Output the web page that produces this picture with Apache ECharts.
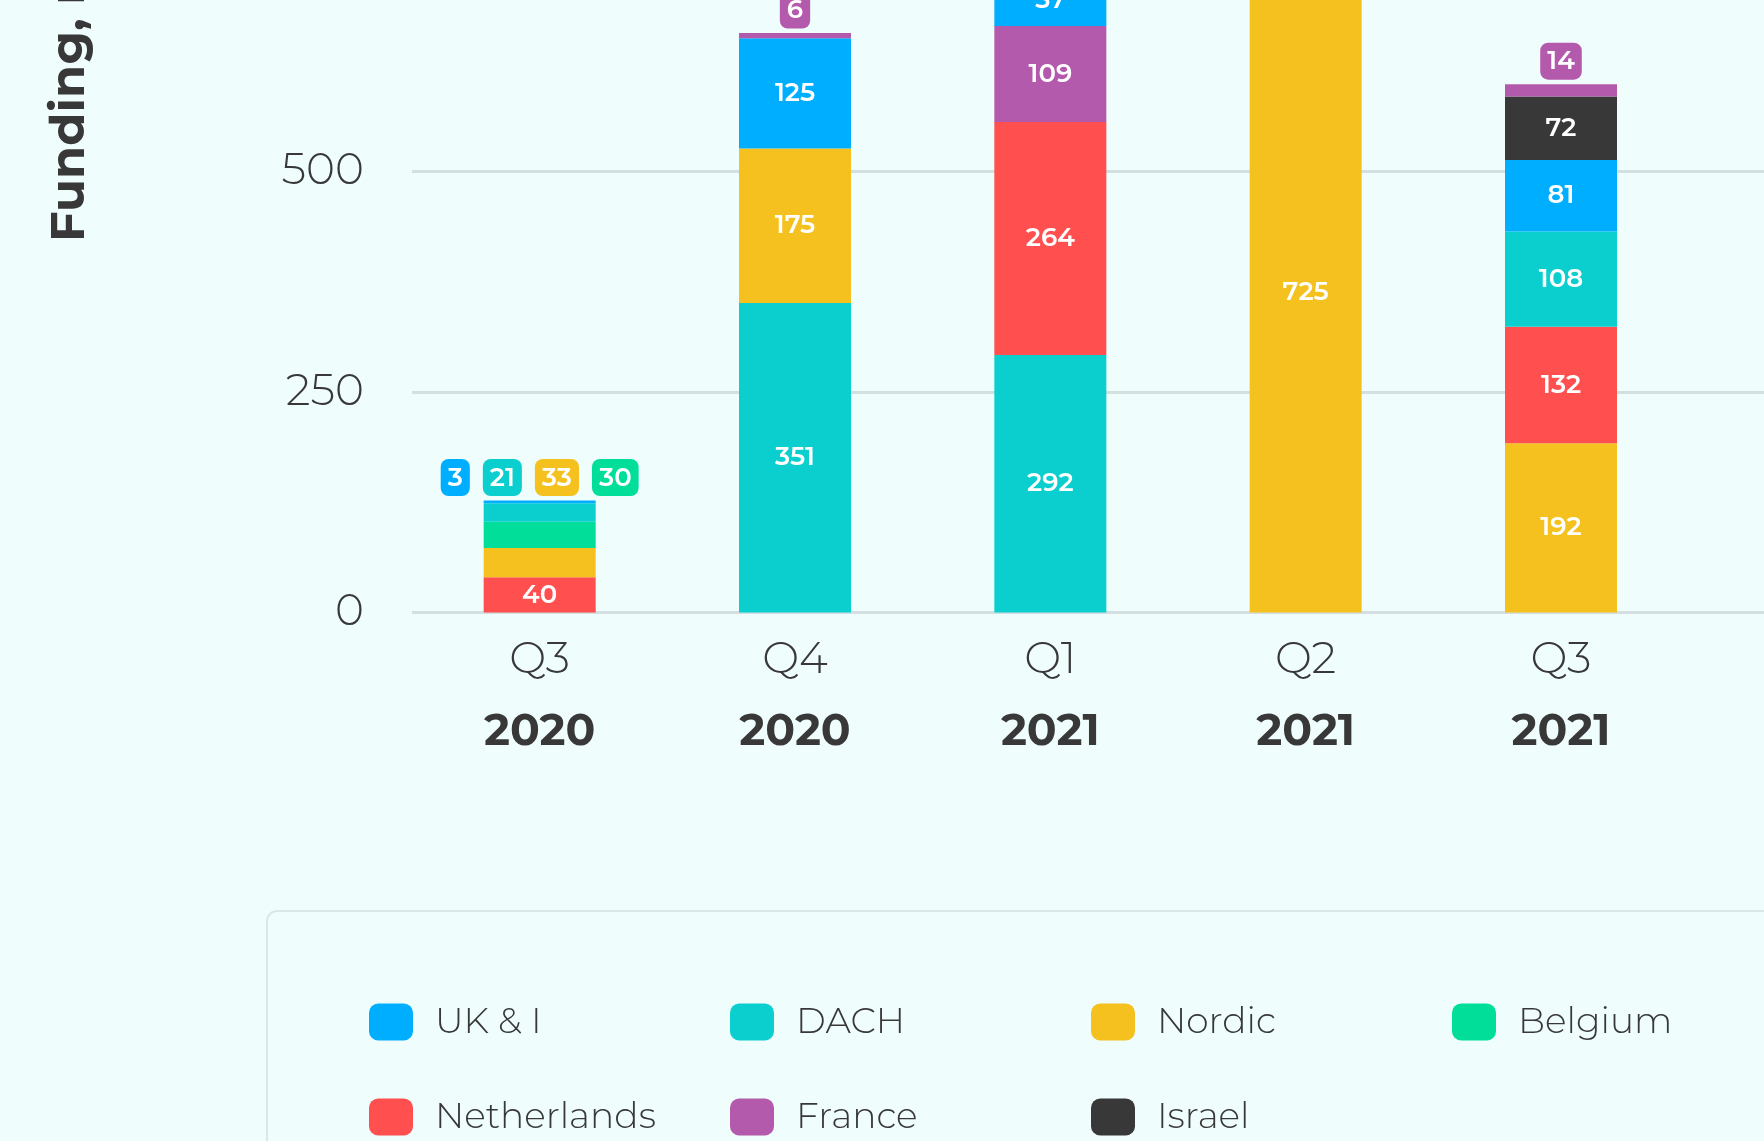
<!DOCTYPE html>
<html><head><meta charset="utf-8">
<script src="https://cdn.jsdelivr.net/npm/echarts@6/dist/echarts.min.js"></script>
<style>html,body{margin:0;padding:0;background:#effdfd}#c{width:1764px;height:1141px}</style>
</head><body><div id="c"></div>
<script>
// ---- data ----
const categories = ['Q3 2020', 'Q4 2020', 'Q1 2021', 'Q2 2021', 'Q3 2021'];
const regions = ['UK & I', 'DACH', 'Nordic', 'Belgium', 'Netherlands', 'France', 'Israel'];
const ukI         = [3, 125, 57, 0, 81];
const dach        = [21, 351, 292, 0, 108];
const nordic      = [33, 175, 0, 725, 192];
const belgium     = [30, 0, 0, 0, 0];
const netherlands = [40, 0, 264, 0, 132];
const france      = [0, 6, 109, 0, 14];
const israel      = [0, 0, 0, 0, 72];
const yTicks = [0, 250, 500, 750];
const yAxisTitle = 'Funding, m€';

// ---- style ----
const colors = ['#00aeff', '#0bcfcf', '#f5c11f', '#00de9a', '#ff4f4f', '#b45aac', '#383838'];
const FONT = 'Montserrat, Inter, "Noto Sans", sans-serif';
const TXT = '#383838';
const SMALL = 35;

const values = [ukI, dach, nordic, belgium, netherlands, france, israel];

// each bar sorted descending, bottom to top
const stacks = categories.map((c, i) => {
  const items = regions.map((r, k) => ({k, v: values[k][i]})).filter(d => d.v > 0);
  items.sort((a, b) => b.v - a.v);
  return items;
});
const maxRank = Math.max(...stacks.map(s => s.length));

const rich = {g: {width: 13}};
colors.forEach((col, k) => {
  rich['b' + k] = {
    backgroundColor: col, color: '#fff', borderRadius: 8,
    padding: [6, 7, 5, 7], fontSize: 26, fontWeight: 600, lineHeight: 26, fontFamily: FONT
  };
});

const series = [];
for (let r = 0; r < maxRank; r++) {
  const data = stacks.map(items => {
    const d = items[r];
    if (!d) return '-';
    const isTop = r === items.length - 1;
    const small = items.filter(x => x.v < SMALL).sort((a, b) => a.k - b.k);
    let label;
    if (d.v >= SMALL) {
      label = {show: true, position: 'inside', formatter: String(d.v)};
    } else if (isTop && small.length) {
      label = {show: true, position: 'top', distance: 10,
        formatter: small.map(x => '{b' + x.k + '|' + x.v + '}').join('{g| }')};
    } else {
      label = {show: false};
    }
    return {value: d.v, itemStyle: {color: colors[d.k]}, label};
  });
  series.push({
    name: 'rank' + r, type: 'bar', stack: 'total', barWidth: 112, silent: true,
    label: {color: '#fff', fontSize: 26, fontWeight: 600, fontFamily: FONT, rich},
    data
  });
}
// legend entries
regions.forEach((name, k) => {
  series.push({name, type: 'bar', stack: 'total', barWidth: 112, data: [], itemStyle: {color: colors[k]}});
});

const chart = echarts.init(document.getElementById('c'), null, {renderer: 'canvas'});
chart.setOption({
  backgroundColor: '#effdfd',
  animation: false,
  textStyle: {fontFamily: FONT},
  grid: {left: 412, right: -180, top: -49, bottom: 528.5, containLabel: false, outerBoundsMode: 'none'},
  xAxis: {
    type: 'category', data: categories, max: 5,
    axisLine: {show: false}, axisTick: {show: false},
    axisLabel: {
      margin: 12, interval: 0,
      formatter: v => {
        if (!v) return '';
        const p = String(v).split(' ');
        return '{q|' + p[0] + '}\n{y|' + p[1] + '}';
      },
      rich: {
        q: {fontSize: 44, fontWeight: 300, color: TXT, lineHeight: 72, fontFamily: FONT},
        y: {fontSize: 44, fontWeight: 700, color: TXT, lineHeight: 72, fontFamily: FONT}
      }
    }
  },
  yAxis: {
    type: 'value', min: yTicks[0], max: yTicks[yTicks.length - 1], interval: yTicks[1] - yTicks[0],
    axisLine: {show: false}, axisTick: {show: false},
    axisLabel: {margin: 48, fontSize: 44, fontWeight: 300, color: TXT, fontFamily: FONT},
    splitLine: {lineStyle: {color: '#d3dfe0', width: 3}}
  },
  legend: {
    data: regions.map(n => ({name: n, icon: 'roundRect'})),
    left: 267, top: 911, width: 1400,
    orient: 'horizontal',
    itemWidth: 44, itemHeight: 37, itemGap: 55,
    padding: [91, 400, 200, 102],
    backgroundColor: '#effdfd', borderColor: '#d8e8e9', borderWidth: 2, borderRadius: 10,
    selectedMode: false,
    textStyle: {fontSize: 36, fontWeight: 300, color: TXT, fontFamily: FONT,
      width: 240, height: 40, lineHeight: 40, padding: [0, 0, 0, 17]}
  },
  graphic: [{
    type: 'text', x: 70, y: 242, rotation: Math.PI / 2,
    style: {text: yAxisTitle, fontSize: 48, fontWeight: 700, fontFamily: FONT, fill: TXT,
      align: 'left', verticalAlign: 'middle'}
  }],
  series
});
</script>
</body></html>
